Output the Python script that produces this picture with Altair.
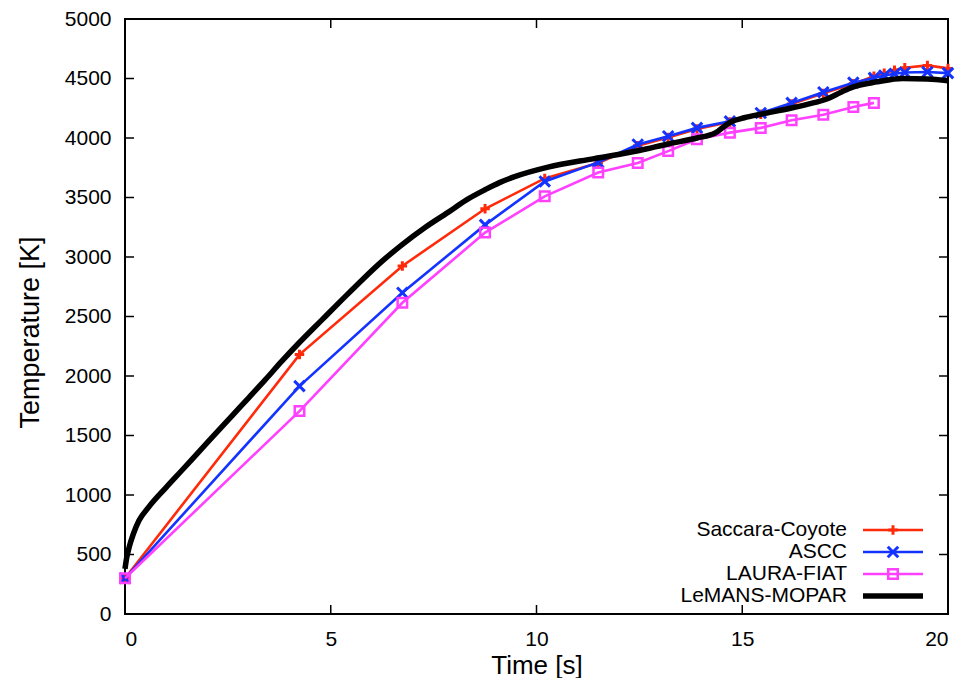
import altair as alt
import pandas as pd

series_names = ["Saccara-Coyote", "ASCC", "LAURA-FIAT", "LeMANS-MOPAR"]
series_colors = ["#ff2a0a", "#1433ff", "#ff40ff", "#000000"]

t_coyote = [0, 4.24, 6.74, 8.75, 10.2, 11.5, 12.46, 13.2, 13.9, 14.7, 15.45, 16.2, 16.97, 17.7, 18.2, 18.45, 18.7, 18.95, 19.5, 20]
T_coyote = [300, 2180, 2925, 3405, 3660, 3790, 3935, 4005, 4075, 4135, 4200, 4285, 4375, 4455, 4520, 4545, 4570, 4590, 4610, 4585]

t_ascc = [0, 4.24, 6.74, 8.75, 10.2, 11.5, 12.46, 13.2, 13.9, 14.7, 15.45, 16.2, 16.97, 17.7, 18.2, 18.45, 18.7, 18.95, 19.5, 20]
T_ascc = [300, 1915, 2700, 3270, 3635, 3795, 3945, 4015, 4085, 4140, 4210, 4295, 4385, 4465, 4505, 4525, 4540, 4550, 4555, 4545]

t_laura = [0, 4.24, 6.74, 8.75, 10.2, 11.5, 12.46, 13.2, 13.9, 14.7, 15.45, 16.2, 16.97, 17.7, 18.2]
T_laura = [300, 1705, 2615, 3205, 3510, 3710, 3790, 3890, 3990, 4045, 4085, 4150, 4195, 4260, 4295]

t_lemans = [0, 0.04, 0.1, 0.2, 0.34, 0.58, 0.99, 1.39, 1.8, 2.2, 2.6, 3.0, 3.4, 3.8, 4.22, 4.78, 5.3, 5.8,
            6.25, 6.72, 7.3, 7.85, 8.3, 8.75, 9.1, 9.47, 10.28, 11.4, 12.5, 13.2, 13.9, 14.33, 14.72,
            15.05, 15.45, 16.17, 16.6, 17.07, 17.4, 17.7, 18.28, 18.9, 19.5, 20]
T_lemans = [380, 470, 560, 670, 785, 900, 1060, 1210, 1365, 1515, 1665, 1815, 1965, 2120, 2275, 2470, 2650, 2820,
            2965, 3100, 3250, 3375, 3480, 3565, 3625, 3675, 3755, 3827, 3895, 3950, 4000, 4040, 4135,
            4170, 4200, 4250, 4285, 4330, 4385, 4430, 4472, 4500, 4495, 4480]

x_ticks = [0, 5, 10, 15, 20]
y_ticks = [0, 500, 1000, 1500, 2000, 2500, 3000, 3500, 4000, 4500, 5000]

FONT = "Liberation Sans"
W, H = 823, 595

def frame(name, ts, Ts):
    return pd.DataFrame({"series": name, "t": ts, "T": Ts})

df_coyote = frame(series_names[0], t_coyote, T_coyote)
df_ascc = frame(series_names[1], t_ascc, T_ascc)
df_laura = frame(series_names[2], t_laura, T_laura)
df_lemans = frame(series_names[3], t_lemans, T_lemans)

xscale = alt.Scale(domain=[0, 20], nice=False, zero=False)
yscale = alt.Scale(domain=[0, 5000], nice=False)

X = alt.X("t:Q", scale=xscale,
          axis=alt.Axis(values=x_ticks, title="Time [s]", labelPadding=14, titlePadding=3,
                        titleFontSize=26, format="d"))
Y = alt.Y("T:Q", scale=yscale,
          axis=alt.Axis(values=y_ticks, title="Temperature [K]", labelPadding=14, titlePadding=20,
                        titleY=313, format="d"))

cross_path = "M-1,-1L1,1M-1,1L1,-1"
plus_path = "M-1,0L1,0M0,-1L0,1"

def series_layers(df, color, width, marker=None, msize=100, mwidth=2.5):
    layers = [alt.Chart(df).mark_line(color=color, strokeWidth=width).encode(x=X, y=Y)]
    if marker is not None:
        layers.append(
            alt.Chart(df).mark_point(shape=marker, filled=False, color=color, size=msize,
                                     strokeWidth=mwidth, opacity=1).encode(x=X, y=Y)
        )
    return layers

layers = []
layers += series_layers(df_coyote, series_colors[0], 2.6, plus_path, 90, 3)
layers += series_layers(df_ascc, series_colors[1], 2.6, cross_path, 110, 3)
layers += series_layers(df_laura, series_colors[2], 2.6, "square", 90, 2.5)
layers.append(alt.Chart(df_lemans).mark_line(color="black", strokeWidth=5.5,
                                             interpolate="monotone").encode(x=X, y=Y))

# inward ticks on all four sides (gnuplot style)
xt = pd.DataFrame({"t": x_ticks[1:-1]})
yt = pd.DataFrame({"T": y_ticks[1:-1]})
TL = 9
layers.append(alt.Chart(xt).mark_rule(color="black", strokeWidth=1.5).encode(
    x=X, y=alt.value(H), y2=alt.value(H - TL)))
layers.append(alt.Chart(xt).mark_rule(color="black", strokeWidth=1.5).encode(
    x=X, y=alt.value(0), y2=alt.value(TL)))
layers.append(alt.Chart(yt).mark_rule(color="black", strokeWidth=1.5).encode(
    y=Y, x=alt.value(0), x2=alt.value(TL)))
layers.append(alt.Chart(yt).mark_rule(color="black", strokeWidth=1.5).encode(
    y=Y, x=alt.value(W), x2=alt.value(W - TL)))

# legend (gnuplot style: right-aligned text, line sample on the right)
legend_markers = [plus_path, cross_path, "square", None]
legend_widths = [2.6, 2.6, 2.6, 5.5]
row_y0, row_dy = 511, 22
text_x, line_x1, line_x2 = 722, 738, 798
for i, name in enumerate(series_names):
    ld = pd.DataFrame({"series": [name]})
    yy = row_y0 + i * row_dy
    layers.append(alt.Chart(ld).mark_text(align="right", baseline="middle", font=FONT,
                                          fontSize=21, color="black").encode(
        text="series:N", x=alt.value(text_x), y=alt.value(yy)))
    layers.append(alt.Chart(ld).mark_rule(color=series_colors[i], strokeWidth=legend_widths[i]).encode(
        x=alt.value(line_x1), x2=alt.value(line_x2), y=alt.value(yy)))
    if legend_markers[i] is not None:
        layers.append(alt.Chart(ld).mark_point(shape=legend_markers[i], filled=False,
                                               color=series_colors[i], size=90 if i != 1 else 110,
                                               strokeWidth=3 if i < 2 else 2.5, opacity=1).encode(
            x=alt.value((line_x1 + line_x2) / 2), y=alt.value(yy)))

chart = alt.layer(*layers).properties(
    width=W, height=H,
    padding={"left": 117, "top": 11, "right": 11, "bottom": 64},
    autosize=alt.AutoSizeParams(type="none"),
).configure_view(
    stroke="black", strokeWidth=2
).configure_axis(
    labelFont=FONT, titleFont=FONT, labelFontSize=21, titleFontSize=27,
    labelColor="black", titleColor="black", titleFontWeight="normal",
    grid=False, domain=False, ticks=False, tickSize=0
)

chart.save("out.html", embed_options={"renderer": "svg", "actions": False})
